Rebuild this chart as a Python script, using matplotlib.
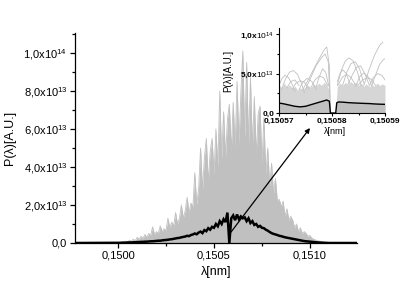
import numpy as np
import matplotlib.pyplot as plt
from matplotlib.ticker import MultipleLocator, FuncFormatter

plt.rcParams['font.family'] = ['Liberation Sans', 'DejaVu Sans']
plt.rcParams['mathtext.fontset'] = 'custom'
plt.rcParams['mathtext.rm'] = 'Liberation Sans'
plt.rcParams['mathtext.it'] = 'Liberation Sans:italic'
plt.rcParams['mathtext.bf'] = 'Liberation Sans:bold'

# main spectrum, sampled every 1e-5 nm from 0.15000 to 0.15110 (values in 1e13 A.U.)
lam_start, lam_stop = 0.15000, 0.15110
gray_peaks = [0, 0, 0.02, 0.05,
              0.1, 0.05, 0.15, 0.1, 0.2, 0.12, 0.3,
              0.2, 0.35, 0.25, 0.45, 0.3, 0.5, 0.4,
              0.85,
              0.45, 0.6, 0.5, 0.9, 0.6, 0.75, 0.65,
              1.3,
              0.8, 1.1, 0.9, 1.6, 1.0, 1.3,
              2.0, 1.3, 1.7, 2.4, 1.6, 2.1, 1.9,
              3.7, 2.0, 2.9, 5.0, 2.8, 4.5,
              5.5, 3.2, 4.8, 5.5, 3.6, 6.0, 4.0,
              8.0, 4.4, 6.9, 4.5, 6.5,
              7.3, 4.8, 7.4, 5.0, 8.5, 5.2, 7.9,
              10.1, 5.5, 9.5, 5.2, 8.7, 5.0,
              7.7, 4.6, 6.8, 7.2, 4.2, 6.6, 3.6,
              5.0, 3.0, 4.2, 2.6, 3.4, 2.2, 2.3,
              1.9, 2.2, 1.4, 1.8, 1.2, 1.4, 1.2,
              0.8, 1.0, 0.6, 0.8, 0.5, 0.6, 0.5,
              0.35, 0.4, 0.25, 0.2, 0.15, 0.12, 0.1,
              0.06, 0.04, 0.02, 0.01, 0]
# solid part under the spikes, every 5e-5 nm over the same range
gray_base = [0, 0.05, 0.1, 0.2, 0.35, 0.5, 0.7, 1.0, 1.6, 2.4, 3.2, 4.0,
             4.5, 4.5, 4.0, 3.0, 1.8, 1.1, 0.6, 0.35, 0.2, 0.08, 0]
mean_curve = [0.01, 0.01, 0.02, 0.02, 0.02, 0.03, 0.03, 0.03, 0.04, 0.04,
              0.05, 0.05, 0.06, 0.06, 0.07, 0.07, 0.08, 0.09, 0.09, 0.10,
              0.11, 0.12, 0.12, 0.14, 0.15, 0.16, 0.17, 0.19, 0.20, 0.22,
              0.24, 0.26, 0.27, 0.30, 0.32, 0.34, 0.38, 0.36, 0.42, 0.45,
              0.50, 0.46, 0.55, 0.60, 0.52, 0.68, 0.62, 0.78, 0.70, 0.85,
              0.80, 1.0, 0.88, 1.15, 1.0, 1.25, 1.1, 1.6, 0.0, 1.3,
              1.45, 1.2, 1.5, 1.25, 1.4, 1.3, 1.35, 1.15, 1.3, 1.05,
              1.15, 0.95, 1.0, 0.85, 0.9, 0.8, 0.78, 0.7, 0.65, 0.58,
              0.52, 0.48, 0.45, 0.42, 0.38, 0.36, 0.33, 0.30, 0.28, 0.26,
              0.24, 0.22, 0.20, 0.18, 0.16, 0.14, 0.12, 0.10, 0.09, 0.08,
              0.07, 0.06, 0.05, 0.04, 0.03, 0.025, 0.02, 0.015, 0.01, 0.005, 0]

# inset: u = offset from 0.15057 nm in units of 1e-5 nm, values in 1e13
inset_base = 0.15057
band_u = [0.00, 0.05, 0.10, 0.15, 0.20, 0.25, 0.30, 0.35, 0.40, 0.45,
          0.50, 0.55, 0.60, 0.65, 0.70, 0.75, 0.80, 0.85, 0.90, 0.95,
          0.97, 1.07, 1.10, 1.15, 1.20, 1.25, 1.30, 1.35, 1.40, 1.45,
          1.50, 1.55, 1.60, 1.65, 1.70, 1.75, 1.80, 1.85, 1.90, 1.95, 2.00]
band_top = [3.6, 3.2, 3.8, 3.3, 3.6, 3.1, 3.4, 2.9, 3.2, 3.0,
            3.3, 3.5, 3.2, 3.7, 3.4, 3.8, 3.5, 3.9, 3.6, 2.8,
            0.0, 0.0, 3.4, 3.8, 3.5, 3.9, 3.6, 4.0, 3.7, 3.9,
            3.5, 3.8, 3.4, 3.7, 3.3, 3.6, 3.4, 3.8, 3.5, 3.7, 3.5]
mean_u = [0, 0.1, 0.2, 0.3, 0.4, 0.5, 0.6, 0.7, 0.8, 0.9, 0.95, 0.97,
          1.07, 1.09, 1.12, 1.2, 1.3, 1.4, 1.5, 1.6, 1.7, 1.8, 1.9, 2.0]
mean_inset = [1.27, 1.15, 1.0, 0.85, 0.78, 0.85, 1.05, 1.25, 1.45, 1.65, 1.5, 0.0,
              0.0, 1.3, 1.4, 1.38, 1.32, 1.28, 1.25, 1.22, 1.2, 1.15, 1.12, 1.1]
arcs = [
    ([0.45, 0.55, 0.65, 0.75, 0.85, 0.9, 0.95, 0.97], [3.0, 4.2, 5.5, 6.8, 8.0, 8.4, 6.0, 0.5]),
    ([0.50, 0.6, 0.7, 0.8, 0.87, 0.93, 0.96], [3.0, 4.5, 6.0, 7.0, 7.5, 6.5, 2.0]),
    ([0.05, 0.12, 0.2, 0.27, 0.35, 0.42, 0.48], [3.0, 4.3, 5.2, 5.4, 4.9, 3.8, 2.6]),
    ([0.0, 0.05, 0.11, 0.18, 0.25, 0.3], [3.5, 4.3, 4.8, 4.5, 3.6, 2.8]),
    ([0.38, 0.45, 0.53, 0.62, 0.7], [3.0, 3.9, 4.4, 4.0, 3.0]),
    ([0.6, 0.68, 0.76, 0.84, 0.92], [3.2, 4.2, 4.7, 4.5, 3.5]),
    ([0.15, 0.22, 0.3, 0.38], [3.2, 4.0, 4.2, 3.5]),
    ([0.25, 0.32, 0.4, 0.48, 0.56], [3.0, 3.8, 4.1, 3.9, 3.1]),
    ([0.7, 0.76, 0.82, 0.88, 0.94], [3.3, 4.6, 5.6, 5.2, 3.4]),
    ([1.6, 1.7, 1.8, 1.9, 1.96], [3.5, 5.5, 7.3, 8.6, 9.0]),
    ([1.1, 1.18, 1.25, 1.32, 1.4, 1.48, 1.55], [3.5, 5.5, 6.6, 7.0, 6.6, 5.2, 3.5]),
    ([1.2, 1.28, 1.36, 1.44, 1.52, 1.6], [3.5, 5.2, 6.3, 6.5, 5.6, 3.8]),
    ([1.1, 1.15, 1.2, 1.27, 1.33], [4.0, 5.0, 5.5, 5.0, 3.8]),
    ([1.45, 1.52, 1.6, 1.68, 1.75], [3.4, 4.6, 5.1, 4.6, 3.5]),
    ([1.7, 1.78, 1.86, 1.94, 2.0], [3.4, 4.5, 5.0, 4.8, 4.2]),
    ([1.3, 1.38, 1.46, 1.54, 1.62, 1.7], [3.6, 4.8, 5.8, 6.0, 5.0, 3.6]),
    ([1.75, 1.82, 1.9, 1.97, 2.0], [3.5, 4.8, 6.2, 6.8, 6.9]),
    ([1.12, 1.2, 1.28, 1.36, 1.44], [3.6, 4.6, 4.9, 4.5, 3.6]),
    ([1.5, 1.58, 1.66, 1.74, 1.82], [3.6, 4.2, 4.5, 4.3, 3.5]),
]

main_xticks = [0.1500, 0.1505, 0.1510]
main_xlabels = ['0,1500', '0,1505', '0,1510']
inset_xticks = [0.15057, 0.15058, 0.15059]
inset_xlabels = ['0,15057', '0,15058', '0,15059']

GRAY = '#c0c0c0'
W, H = 415, 292


def sci_comma(v, pos):
    if abs(v) < 1:
        return '0,0'
    if v < 0:
        return ''
    e = int(np.floor(np.log10(v) + 1e-9))
    m = v / 10 ** e
    return ('%.1f' % m).replace('.', ',') + 'x$10^{%d}$' % e


def style_axes(ax, major, minor, width=0.9):
    ax.spines['top'].set_visible(False)
    ax.spines['right'].set_visible(False)
    for s in ('left', 'bottom'):
        ax.spines[s].set_linewidth(width)
    ax.tick_params(which='major', direction='out', length=major, width=width)
    ax.tick_params(which='minor', direction='out', length=minor, width=width)


fig = plt.figure(figsize=(W / 100, H / 100), dpi=100)
ax = fig.add_axes([75 / W, (H - 243) / H, (357 - 75) / W, (243 - 33) / H])

lam = np.linspace(lam_start, lam_stop, len(gray_peaks))
lam_base = np.linspace(lam_start, lam_stop, len(gray_base))
ax.fill_between(lam_base, 0, np.array(gray_base) * 1e13, color=GRAY, lw=0)
ax.fill_between(lam, 0, np.array(gray_peaks) * 1e13, color=GRAY, lw=0)
ax.plot(lam, np.array(gray_peaks) * 1e13, color=GRAY, lw=0.6)

lam_b = np.concatenate([[0.14978], lam, [0.15124]])
mean_b = np.concatenate([[0], np.array(mean_curve) * 1e13, [0]])
ax.plot(lam_b, mean_b, color='k', lw=1.8, solid_joinstyle='miter')

ax.set_xlim(0.149776, 0.151245)
ax.set_ylim(0, 1.105e14)
ax.set_xticks(main_xticks, main_xlabels)
ax.xaxis.set_minor_locator(MultipleLocator(0.00025))
ax.yaxis.set_major_locator(MultipleLocator(2e13))
ax.yaxis.set_minor_locator(MultipleLocator(1e13))
ax.yaxis.set_major_formatter(FuncFormatter(sci_comma))
style_axes(ax, 3.5, 2)
ax.tick_params(labelsize=8, pad=2)
ax.set_xlabel('λ[nm]', fontsize=9)
ax.set_ylabel('P(λ)[A.U.]', fontsize=9)
ax.xaxis.set_label_coords(0.5, -0.11)
ax.yaxis.set_label_coords(-0.21, 0.5)

ax.annotate('', xy=(0.151, 6.05e13), xytext=(0.150589, 0.58e13),
            arrowprops=dict(arrowstyle='-|>', color='k', lw=0.9,
                            mutation_scale=7, shrinkA=0, shrinkB=0))

# inset
ax2 = fig.add_axes([279 / W, (H - 113) / H, (385 - 279) / W, (113 - 28) / H])
ax2.set_facecolor('white')
to_lam = lambda u: inset_base + np.array(u) * 1e-5
ax2.fill_between(to_lam(band_u), 0, np.array(band_top) * 1e13, color='#d6d6d6', lw=0)
for au, av in arcs:
    ax2.plot(to_lam(au), np.array(av) * 1e13, color=GRAY, lw=0.6)
ax2.fill_between(to_lam(mean_u), 0, np.array(mean_inset) * 1e13, color=GRAY, lw=0)
ax2.plot(to_lam(mean_u), np.array(mean_inset) * 1e13, color='k', lw=1.0)

ax2.set_xlim(0.15057, 0.15059)
ax2.set_ylim(0, 1.08e14)
ax2.set_xticks(inset_xticks, inset_xlabels)
ax2.xaxis.set_minor_locator(MultipleLocator(0.000005))
ax2.yaxis.set_major_locator(MultipleLocator(5e13))
ax2.yaxis.set_minor_locator(MultipleLocator(2.5e13))
ax2.yaxis.set_major_formatter(FuncFormatter(sci_comma))
style_axes(ax2, 2.5, 1.5, 0.8)
ax2.tick_params(labelsize=6, pad=1)
for t in ax2.get_xticklabels() + ax2.get_yticklabels():
    t.set_fontweight('bold')
ax2.set_xlabel('λ[nm]', fontsize=6.5)
ax2.set_ylabel('P(λ)[A.U.]', fontsize=7)
ax2.xaxis.set_label_coords(0.53, -0.17)
ax2.yaxis.set_label_coords(-0.43, 0.5)

fig.savefig('out.png', dpi=100)
